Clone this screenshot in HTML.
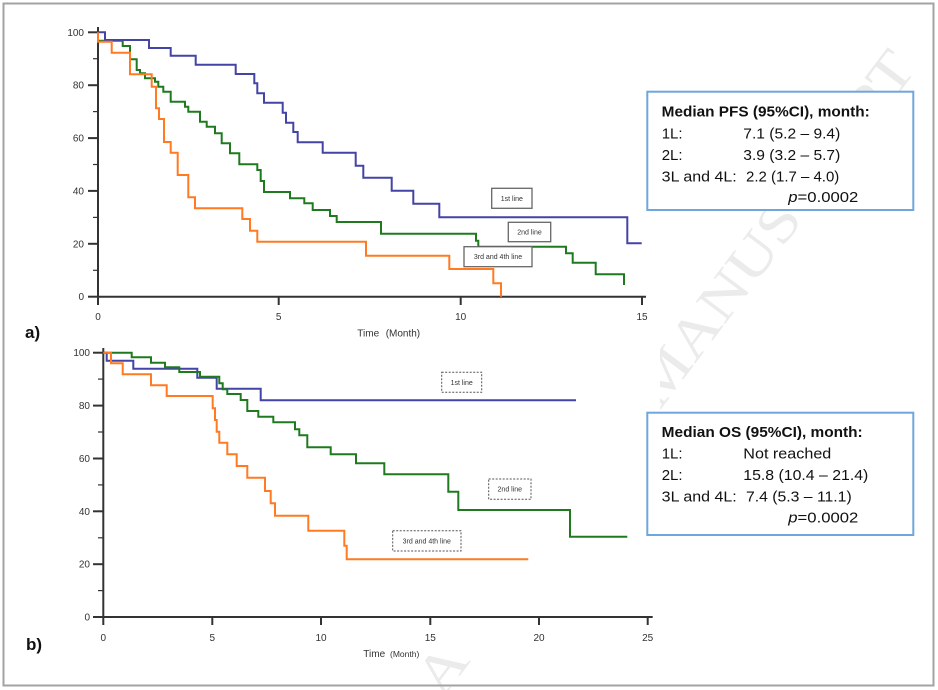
<!DOCTYPE html>
<html><head><meta charset="utf-8"><style>
html,body{margin:0;padding:0;background:#fff;}
svg{display:block;}
</style></head><body>
<svg width="938" height="690" viewBox="0 0 938 690" xmlns="http://www.w3.org/2000/svg" font-family="'Liberation Sans', Arial, sans-serif">
<rect width="938" height="690" fill="#fff"/>
<!-- watermark -->
<g transform="translate(665.5,373) rotate(-53)">
<text x="0" y="0" text-anchor="middle" dominant-baseline="central" font-family="'Liberation Serif', serif" font-size="56" fill="#ebebeb" textLength="790" lengthAdjust="spacingAndGlyphs">ACCEPTED MANUSCRIPT</text>
</g>
<!-- cover chart area -->
<rect x="5" y="5" width="655" height="650" fill="#fff"/>
<!-- frame -->
<rect x="3.5" y="3.5" width="930" height="682" fill="none" stroke="#a3a3a3" stroke-width="2"/>

<!-- ===== Top chart (PFS) ===== -->
<g stroke="#333" stroke-width="2" fill="none">
<line x1="98" y1="27" x2="98" y2="297.5"/>
<line x1="97" y1="296.7" x2="646" y2="296.7"/>
<line x1="88" y1="32.3" x2="98" y2="32.3"/>
<line x1="88" y1="85.2" x2="98" y2="85.2"/>
<line x1="88" y1="138.1" x2="98" y2="138.1"/>
<line x1="88" y1="190.9" x2="98" y2="190.9"/>
<line x1="88" y1="243.8" x2="98" y2="243.8"/>
<line x1="88" y1="296.7" x2="98" y2="296.7"/>
<line x1="93" y1="58.7" x2="98" y2="58.7" stroke-width="1.2"/>
<line x1="93" y1="111.6" x2="98" y2="111.6" stroke-width="1.2"/>
<line x1="93" y1="164.5" x2="98" y2="164.5" stroke-width="1.2"/>
<line x1="93" y1="217.4" x2="98" y2="217.4" stroke-width="1.2"/>
<line x1="93" y1="270.3" x2="98" y2="270.3" stroke-width="1.2"/>
<line x1="98" y1="296.7" x2="98" y2="305"/>
<line x1="278.7" y1="296.7" x2="278.7" y2="305"/>
<line x1="460.7" y1="296.7" x2="460.7" y2="305"/>
<line x1="642" y1="296.7" x2="642" y2="305"/>
</g>
<g font-size="10" fill="#333" text-anchor="end">
<text x="84" y="35.8">100</text>
<text x="84" y="88.7">80</text>
<text x="84" y="141.6">60</text>
<text x="84" y="194.4">40</text>
<text x="84" y="247.3">20</text>
<text x="84" y="300.2">0</text>
</g>
<g font-size="10" fill="#333" text-anchor="middle">
<text x="98" y="320">0</text>
<text x="278.7" y="320">5</text>
<text x="460.7" y="320">10</text>
<text x="642" y="320">15</text>
</g>
<text x="357.3" y="336.5" font-size="10" fill="#333">Time</text>
<text x="385.7" y="336.5" font-size="10" fill="#333">(Month)</text>

<g fill="none" stroke-width="2" stroke-linejoin="miter">
<path stroke="#1f7a1f" d="M98,32.3 V40.7 H122.7 V46 H130 V59.3 H136.7 V70 H140 V73.3 H145 V78.3 H155 V81.7 H158.3 V86.7 H163.3 V91.7 H170.7 V101.7 H185 V106.7 H188.3 V111.7 H200 V121.7 H206.7 V126.7 H215 V133.3 H221.7 V143.3 H230 V153.3 H239.3 V164.3 H257.3 V170 H260.7 V181 H264 V192 H290 V198.3 H304.3 V203.3 H312.7 V210 H330 V216 H336.7 V222 H381 V233.7 H476 V240.7 H478.3 V246.7 H566 V253.3 H572.7 V262.7 H595.7 V274.3 H624 V285"/>
<path stroke="#4444a6" d="M98,32.3 H105 V40 H149 V48 H170.7 V55.7 H195.7 V64.7 H235.7 V74 H254.3 V83.3 H257.3 V93.3 H264 V102.7 H282.7 V112.7 H286 V122.7 H293.3 V132 H297.7 V142.3 H322.7 V152.7 H355.7 V165.7 H363.3 V177.7 H391.7 V190.7 H413.3 V203.7 H439.3 V217.3 H627.3 V243.3 H641.7"/>
<path stroke="#ff7a21" d="M98,32.3 V41.7 H111.7 V52.7 H130 V74.3 H151.7 V86.7 H156 V108.3 H159 V119 H164 V142 H170.7 V152.7 H177.7 V175 H188.3 V197.3 H195 V208.3 H242.3 V219 H250 V230.7 H257.3 V241.7 H366 V255.7 H449.3 V269 H493.3 V283.3 H501 V296.7"/>
</g>
<g stroke="#666" stroke-width="1.3" fill="#fff">
<rect x="491.7" y="188.3" width="40.3" height="20"/>
<rect x="508.3" y="222.3" width="42.4" height="19.4"/>
<rect x="464" y="246.7" width="68" height="20"/>
</g>
<g font-size="7" fill="#333" text-anchor="middle">
<text x="511.8" y="200.8">1st line</text>
<text x="529.5" y="234.5">2nd line</text>
<text x="498" y="259.2">3rd and 4th line</text>
</g>
<text x="25" y="338" font-size="17" font-weight="bold" fill="#111">a)</text>

<!-- ===== Bottom chart (OS) ===== -->
<g stroke="#333" stroke-width="2" fill="none">
<line x1="103.3" y1="348" x2="103.3" y2="618"/>
<line x1="102.3" y1="617" x2="652.7" y2="617"/>
<line x1="93" y1="352.7" x2="103.3" y2="352.7"/>
<line x1="93" y1="405.6" x2="103.3" y2="405.6"/>
<line x1="93" y1="458.5" x2="103.3" y2="458.5"/>
<line x1="93" y1="511.3" x2="103.3" y2="511.3"/>
<line x1="93" y1="564.2" x2="103.3" y2="564.2"/>
<line x1="93" y1="617" x2="103.3" y2="617"/>
<line x1="98" y1="379.1" x2="103.3" y2="379.1" stroke-width="1.2"/>
<line x1="98" y1="432" x2="103.3" y2="432" stroke-width="1.2"/>
<line x1="98" y1="484.9" x2="103.3" y2="484.9" stroke-width="1.2"/>
<line x1="98" y1="537.8" x2="103.3" y2="537.8" stroke-width="1.2"/>
<line x1="98" y1="590.6" x2="103.3" y2="590.6" stroke-width="1.2"/>
<line x1="103.3" y1="617" x2="103.3" y2="625"/>
<line x1="212.3" y1="617" x2="212.3" y2="625"/>
<line x1="321" y1="617" x2="321" y2="625"/>
<line x1="430.3" y1="617" x2="430.3" y2="625"/>
<line x1="539" y1="617" x2="539" y2="625"/>
<line x1="647.7" y1="617" x2="647.7" y2="625"/>
</g>
<g font-size="10" fill="#333" text-anchor="end">
<text x="90" y="356.2">100</text>
<text x="90" y="409.1">80</text>
<text x="90" y="462">60</text>
<text x="90" y="514.8">40</text>
<text x="90" y="567.7">20</text>
<text x="90" y="620.5">0</text>
</g>
<g font-size="10" fill="#333" text-anchor="middle">
<text x="103.3" y="641">0</text>
<text x="212.3" y="641">5</text>
<text x="321" y="641">10</text>
<text x="430.3" y="641">15</text>
<text x="539" y="641">20</text>
<text x="647.7" y="641">25</text>
</g>
<text x="363.3" y="657" font-size="10" fill="#333">Time</text>
<text x="390" y="657" font-size="8.5" fill="#333">(Month)</text>

<g fill="none" stroke-width="2">
<path stroke="#4444a6" d="M103.3,352.7 H106.7 V360.7 H133.3 V368.7 H197.3 V377.7 H216.7 V388.7 H260.7 V400.3 H576"/>
<path stroke="#1f7a1f" d="M103.3,352.7 H131.7 V357.3 H151 V362.7 H165 V367.3 H179.3 V372 H200 V376.7 H219.3 V383.3 H222.7 V389.3 H227.3 V394 H240.7 V400 H247.3 V411 H258.3 V416.7 H273.3 V422.3 H295 V429.3 H299.3 V435.3 H307.3 V447.3 H330.7 V454.3 H356 V463.3 H384.3 V474.3 H448.3 V491.7 H458.3 V510 H570 V536.7 H627.3"/>
<path stroke="#ff7a21" d="M103.3,352.7 H111 V363.3 H122.7 V374.3 H151 V385.3 H166.7 V396 H212.7 V408.3 H215 V420 H216.7 V431.7 H219.3 V442.7 H227.3 V454.3 H236.7 V466 H247.3 V477.7 H265 V491 H270.7 V503.3 H275 V515.7 H308.3 V530.7 H344.3 V545.7 H346.7 V559.3 H528.3"/>
</g>
<g stroke="#555" stroke-width="1" stroke-dasharray="2,1.5" fill="#fff">
<rect x="441.7" y="372.3" width="40" height="20"/>
<rect x="488.7" y="479" width="42.3" height="20.3"/>
<rect x="392.7" y="530.7" width="68.3" height="20.3"/>
</g>
<g font-size="7" fill="#333" text-anchor="middle">
<text x="461.7" y="384.8">1st line</text>
<text x="509.8" y="491.6">2nd line</text>
<text x="426.8" y="543.3">3rd and 4th line</text>
</g>
<text x="26" y="650" font-size="17" font-weight="bold" fill="#111">b)</text>

<!-- ===== PFS box ===== -->
<rect x="647.3" y="91.7" width="266" height="118.3" fill="#fff" stroke="#6fa6dc" stroke-width="2"/>
<g font-size="15" fill="#111">
<text x="661.7" y="116.5" font-weight="bold" textLength="208" lengthAdjust="spacingAndGlyphs">Median PFS (95%CI), month:</text>
<text x="661.7" y="138.5">1L:</text>
<text x="743.3" y="138.5" textLength="97" lengthAdjust="spacingAndGlyphs">7.1 (5.2 – 9.4)</text>
<text x="661.7" y="160">2L:</text>
<text x="743.3" y="160" textLength="97" lengthAdjust="spacingAndGlyphs">3.9 (3.2 – 5.7)</text>
<text x="661.7" y="181.5" textLength="75" lengthAdjust="spacingAndGlyphs">3L and 4L:</text>
<text x="746" y="181.5" textLength="93.3" lengthAdjust="spacingAndGlyphs">2.2 (1.7 – 4.0)</text>
<text x="788.3" y="202" textLength="70" lengthAdjust="spacingAndGlyphs"><tspan font-style="italic">p</tspan>=0.0002</text>
</g>

<!-- ===== OS box ===== -->
<rect x="647.3" y="412.7" width="266" height="122.3" fill="#fff" stroke="#6fa6dc" stroke-width="2"/>
<g font-size="15" fill="#111">
<text x="661.7" y="437" font-weight="bold" textLength="201" lengthAdjust="spacingAndGlyphs">Median OS (95%CI), month:</text>
<text x="661.7" y="458.7">1L:</text>
<text x="743.3" y="458.7" textLength="88" lengthAdjust="spacingAndGlyphs">Not reached</text>
<text x="661.7" y="480">2L:</text>
<text x="743.3" y="480" textLength="125" lengthAdjust="spacingAndGlyphs">15.8 (10.4 – 21.4)</text>
<text x="661.7" y="501.3" textLength="75" lengthAdjust="spacingAndGlyphs">3L and 4L:</text>
<text x="746" y="501.3" textLength="105.7" lengthAdjust="spacingAndGlyphs">7.4 (5.3 – 11.1)</text>
<text x="788.3" y="522.5" textLength="70" lengthAdjust="spacingAndGlyphs"><tspan font-style="italic">p</tspan>=0.0002</text>
</g>
</svg>
</body></html>
